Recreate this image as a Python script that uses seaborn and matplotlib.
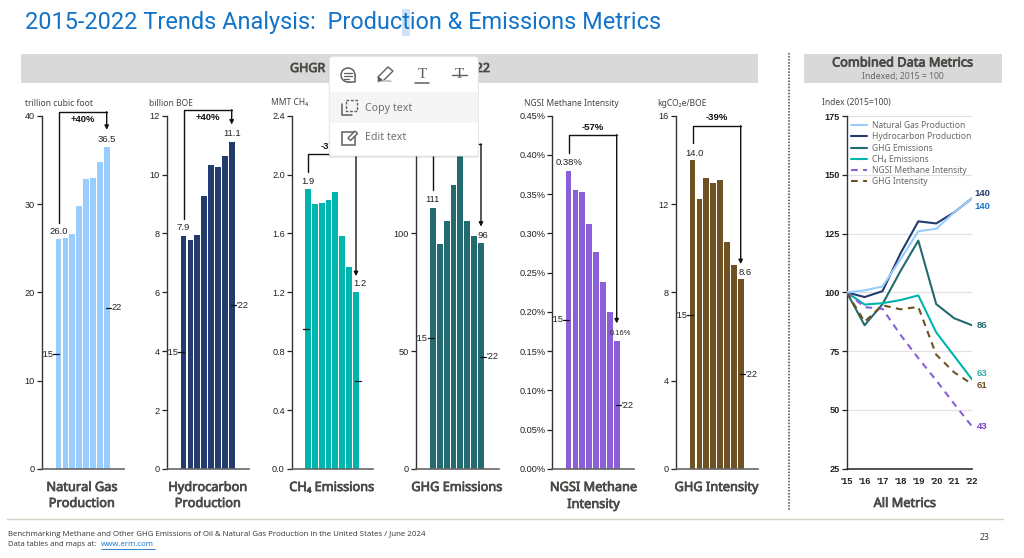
import numpy as np
import pandas as pd
import matplotlib
matplotlib.use("Agg")
import matplotlib.pyplot as plt
from matplotlib.patches import Rectangle, FancyBboxPatch, Circle, Polygon
import matplotlib.patheffects as pe
import seaborn as sns

# ---------- data ----------
years = ["'15", "'16", "'17", "'18", "'19", "'20", "'21", "'22"]
natural_gas = [26.0, 26.2, 26.6, 29.8, 32.8, 33.0, 34.8, 36.5]
hydrocarbon = [7.9, 7.77, 7.96, 9.26, 10.33, 10.26, 10.62, 11.1]
ch4_emissions = [1.9, 1.80, 1.81, 1.83, 1.88, 1.58, 1.37, 1.2]
ghg_emissions = [111, 95.5, 105.4, 120.7, 135, 105.4, 98.8, 96]
ngsi_intensity = [0.380, 0.356, 0.353, 0.312, 0.276, 0.238, 0.200, 0.163]
ghg_intensity = [14.0, 12.25, 13.2, 12.95, 13.1, 10.28, 9.25, 8.6]

idx_natural_gas = [100, 100.8, 102.5, 114, 126, 127, 134, 140]
idx_hydrocarbon = [100, 98, 100.5, 116.5, 130.2, 129.3, 134, 140]
idx_ghg = [100, 86, 95, 109, 122, 95, 89, 86]
idx_ch4 = [100, 94.8, 95.4, 96.7, 98.7, 83, 73, 63]
idx_ngsi = [100, 93.7, 93, 82, 72, 62.6, 52.6, 43]
idx_ghg_int = [100, 87.5, 94.5, 92.8, 93.8, 73.5, 66, 61]

metric_names = ["Natural Gas Production", "Hydrocarbon Production", "GHG Emissions",
                "CH₄ Emissions", "NGSI Methane Intensity", "GHG Intensity"]
metric_colors = ["#99CCFF", "#243B6E", "#236B70", "#00B5AD", "#8A5FD8", "#6F5224"]

W, H = 1024, 558
sns.set_theme(style="white")
plt.rcParams["font.family"] = ["Liberation Sans", "DejaVu Sans"]
UI = ["Noto Sans", "DejaVu Sans"]
TXT = "#4a4a46"
BOLDISH = [pe.withStroke(linewidth=0.55, foreground=TXT)]
fig = plt.figure(figsize=(W / 100, H / 100), dpi=100, facecolor="white")


def px_axes(x0, x1, ytop, ybot):
    ax = fig.add_axes([x0 / W, 1 - ybot / H, (x1 - x0) / W, (ybot - ytop) / H])
    ax.set_zorder(1)
    ax.patch.set_alpha(0)
    return ax


def style_axes(ax):
    sns.despine(ax=ax)
    ax.spines["left"].set_color("#333333")
    ax.spines["left"].set_linewidth(1.0)
    ax.spines["bottom"].set_color("#666666")
    ax.spines["bottom"].set_linewidth(1.2)
    ax.tick_params(axis="y", left=True, length=3.5, width=0.9, color="#222222", pad=1.5,
                   labelsize=6.6, labelcolor="#222222")
    ax.set_xlabel("")
    ax.set_ylabel("")


def bar_panel(x_axis, x_right, first_center, values, color, ymax, yticks, fmt,
              bracket, pct, pct_y, labels, marks):
    step = 6.87
    ax = px_axes(x_axis, x_right, 115.7, 469)
    sns.barplot(x=years, y=values, color=color, saturation=1, width=0.84, linewidth=0, ax=ax)
    ax.set_xlim((x_axis - first_center) / step, (x_right - first_center) / step)
    ax.set_ylim(0, ymax)
    ax.set_yticks(yticks)
    ax.set_yticklabels([fmt.format(t) for t in yticks])
    ax.set_xticks([])
    style_axes(ax)
    low, top, arrow = bracket
    ax.plot([0, 0, 7], [low, top, top], color="#111111", lw=1.0, clip_on=False, zorder=5)
    ax.annotate("", xy=(7, arrow), xytext=(7, top), annotation_clip=False,
                arrowprops=dict(arrowstyle="-|>", lw=1.0, color="#111111",
                                shrinkA=0, shrinkB=0, mutation_scale=6))
    ax.text(3.5, pct_y, pct, ha="center", va="center", fontsize=6.8, fontweight="bold",
            color="#111111", clip_on=False)
    for x, y, s, size in labels:
        ax.text(x, y, s, ha="center", va="center", fontsize=size, color="#222222", clip_on=False)
    for i, (y, s) in enumerate(marks):
        if i == 0:
            ax.plot([-0.75, 0.1], [y, y], color="#111111", lw=0.9, clip_on=False, zorder=5)
            ax.text(-0.8, y, s, ha="right", va="center", fontsize=6.6, color="#222222")
        else:
            ax.plot([6.9, 7.7], [y, y], color="#111111", lw=0.9, clip_on=False, zorder=5)
            ax.text(7.75, y, s, ha="left", va="center", fontsize=6.6, color="#222222")
    return ax


bar_panel(41.7, 124, 58.6, natural_gas, metric_colors[0], 40, [0, 10, 20, 30, 40], "{:.0f}",
          (27.9, 40.45, 38.4), "+40%", 39.6,
          [(0, 26.9, "26.0", 6.8), (7, 37.35, "36.5", 6.8)], [(13.0, "'15"), (18.25, "22")])
bar_panel(166.7, 249, 183.6, hydrocarbon, metric_colors[1], 12, [0, 2, 4, 6, 8, 10, 12], "{:.0f}",
          (8.5, 12.2, 11.7), "+40%", 11.95,
          [(0, 8.2, "7.9", 6.8), (7, 11.4, "11.1", 6.8)], [(3.96, "'15"), (5.57, "'22")])
bar_panel(291.7, 373, 307.9, ch4_emissions, metric_colors[3], 2.4, [0, .4, .8, 1.2, 1.6, 2.0, 2.4], "{:.1f}",
          (2.02, 2.14, 1.31), "-37%", 2.19,
          [(0, 1.953, "1.9", 6.8), (7.6, 1.257, "1.2", 6.8)], [(0.95, ""), (0.6, "")])
bar_panel(415.7, 498.7, 432.9, ghg_emissions, metric_colors[2], 150, [0, 50, 100, 150], "{:.0f}",
          (118.6, 138, 102.9), "-14%", 142,
          [(0, 114.4, "111", 6.8), (7.2, 99, "96", 6.8)], [(55.6, "'15"), (47.7, "'22")])
bar_panel(552.3, 634, 568.6, ngsi_intensity, metric_colors[4], 0.45,
          [0, .05, .10, .15, .20, .25, .30, .35, .40, .45], "{:.2f}%",
          (0.403, 0.4258, 0.1855), "-57%", 0.435,
          [(0.1, 0.39, "0.38%", 6.8), (7.6, 0.1728, "0.16%", 5.4)], [(0.1898, "'15"), (0.0815, "'22")])
bar_panel(675.7, 758, 692.6, ghg_intensity, metric_colors[5], 16, [0, 4, 8, 12, 16], "{:.0f}",
          (14.75, 15.55, 9.28), "-39%", 15.9,
          [(0.2, 14.3, "14.0", 6.8), (7.7, 8.92, "8.6", 6.8)], [(6.96, "'15"), (4.29, "'22")])

# ---------- combined line chart ----------
ax = px_axes(846.7, 972, 116, 468.7)
series = [idx_natural_gas, idx_hydrocarbon, idx_ghg, idx_ch4, idx_ngsi, idx_ghg_int]
df = pd.concat([pd.DataFrame({"year": np.arange(len(years)), "value": s, "metric": n})
                for s, n in zip(series, metric_names)])
dashes = {n: (3.2, 2.6) if "Intensity" in n else "" for n in metric_names}
sns.lineplot(data=df, x="year", y="value", hue="metric", style="metric",
             hue_order=metric_names, style_order=metric_names,
             palette=dict(zip(metric_names, metric_colors)), dashes=dashes,
             linewidth=1.5, ax=ax, zorder=3)
ax.lines[0].set_zorder(3.5)
ax.set_xlim(0, 7)
ax.set_ylim(25, 175)
ax.set_yticks([25, 50, 75, 100, 125, 150, 175])
ax.set_xticks(range(8))
ax.set_xticklabels(years)
ax.yaxis.grid(True, color="#e2e2e2", lw=0.9)
ax.set_axisbelow(True)
style_axes(ax)
ax.spines["bottom"].set_color("#333333")
ax.tick_params(axis="y", labelsize=6.6)
ax.tick_params(axis="x", bottom=False, pad=0, labelsize=6.6, labelcolor="#222222")
for t in ax.get_xticklabels() + ax.get_yticklabels():
    t.set_fontweight("bold")
leg = ax.legend(loc="upper left", bbox_to_anchor=(0.034, 0.986), frameon=False,
                labelspacing=0.27, handlelength=1.95, handletextpad=0.55,
                borderaxespad=0, borderpad=0, prop={"family": UI, "size": 6.1})
for t in leg.get_texts():
    t.set_color("#666666")
end_labels = [(141.9, "140", "#243B6E"), (136.6, "140", "#1F78C8"), (86, "86", "#236B70"),
              (65.7, "63", "#2FA8A2"), (60.2, "61", "#6F5224"), (43, "43", "#7A3FC8")]
for y, s, c in end_labels:
    ax.text(7.56, y, s, ha="center", va="center", fontsize=6.8, fontweight="bold", color=c, clip_on=False)

# ---------- page furniture (pixel coordinates) ----------
ov = fig.add_axes([0, 0, 1, 1])
ov.set_xlim(0, W)
ov.set_ylim(H, 0)
ov.axis("off")
ov.set_zorder(10)
ov.patch.set_alpha(0)

ov.add_patch(Rectangle((402, 9), 7.5, 27, color="#CFE2F7", lw=0))
ov.text(25, 22.5, "2015-2022 Trends Analysis:  Production & Emissions Metrics", family="Roboto",
        fontsize=16.9, color="#1273C9", va="center", ha="left")

ov.add_patch(Rectangle((21, 54), 737, 28.7, color="#D9D9D9", lw=0))
ov.add_patch(Rectangle((804.3, 54), 197.4, 28.7, color="#D9D9D9", lw=0))
ov.text(290, 68.5, "GHGR", family=UI, fontsize=9, color=TXT, va="center", ha="left", path_effects=BOLDISH)
ov.text(490, 68.5, "22", family=UI, fontsize=9, color=TXT, va="center", ha="right", path_effects=BOLDISH)
ov.text(903, 63, "Combined Data Metrics", family=UI, fontsize=9.2, color=TXT, va="center", ha="center",
        path_effects=BOLDISH)
ov.text(903, 77, "Indexed; 2015 = 100", family=UI, fontsize=6.2, color="#666666", va="center", ha="center")

ov.plot([789, 789], [53, 510], color="#444444", lw=1.1, ls=(0, (1, 1)))

units = [(25, "trillion cubic foot"), (149, "billion BOE"), (271, "MMT CH₄"),
         (524, "NGSI Methane Intensity"), (657, "kgCO₂e/BOE"), (822, "Index (2015=100)")]
for x, s in units:
    ov.text(x, 103, s, family=UI, fontsize=6.1, color="#444444", va="center", ha="left")

captions = [(82, 487.5, "Natural Gas"), (82, 503.5, "Production"), (208, 487.5, "Hydrocarbon"), (208, 503.5, "Production"),
            (332, 487.5, "CH₄ Emissions"), (457, 487.5, "GHG Emissions"), (593.7, 487.5, "NGSI Methane"),
            (593.7, 504.5, "Intensity"), (716.7, 487.5, "GHG Intensity"), (905, 503.5, "All Metrics")]
for x, y, s in captions:
    ov.text(x, y, s, family=UI, fontsize=9.2, color=TXT, va="center", ha="center", path_effects=BOLDISH)

ov.plot([7, 1003], [519, 519], color="#C9D6C2", lw=1.0)
ov.text(8, 534, "Benchmarking Methane and Other GHG Emissions of Oil & Natural Gas Production in the United States / June 2024",
        family="Open Sans", fontsize=5.66, color="#333333", va="center")
ov.text(8, 545, "Data tables and maps at:", family="Open Sans", fontsize=5.5, color="#333333", va="center")
ov.text(101, 545, "www.erm.com", family="Open Sans", fontsize=5.66, color="#1273C9", va="center")
ov.plot([101, 155], [549, 549], color="#1273C9", lw=0.6)
ov.text(985, 537, "23", family="Open Sans", fontsize=6.3, color="#333333", va="center", ha="center")

# ---------- floating context menu over the slide ----------
ov.add_patch(FancyBboxPatch((329.3, 56.7), 149, 99.3, boxstyle="round,pad=0.5,rounding_size=3",
                            fc="#000000", ec="none", alpha=0.10, zorder=20,
                            transform=ov.transData + matplotlib.transforms.ScaledTranslation(0, -1 / 72, fig.dpi_scale_trans)))
ov.add_patch(FancyBboxPatch((329.3, 56.7), 149, 99.3, boxstyle="round,pad=0,rounding_size=3",
                            fc="white", ec="#E6E6E6", lw=0.6, zorder=21))
ov.add_patch(Rectangle((329.5, 92), 148.6, 30.7, color="#F5F5F5", lw=0, zorder=22))
IC = "#5f5f5f"
z = 23
ov.add_patch(Circle((348, 75), 7, fc="white", ec=IC, lw=1.1, zorder=z))
ov.add_patch(Rectangle((348, 75), 7, 7, fc="white", ec="none", zorder=z))
ov.plot([348, 355, 355], [82, 82, 75], color=IC, lw=1.1, zorder=z + 1)
ov.plot([344, 352], [73, 73], color=IC, lw=0.9, zorder=z + 1)
ov.plot([344, 352], [76, 76], color=IC, lw=0.9, zorder=z + 1)
ov.plot([344, 349], [79, 79], color=IC, lw=0.9, zorder=z + 1)
ov.add_patch(Polygon([[378, 77], [388, 67], [393, 71], [383, 81]], closed=True, fc="white", ec=IC, lw=1.0, zorder=z))
ov.add_patch(Polygon([[378, 77], [383, 81], [378, 82]], closed=True, fc=IC, ec=IC, lw=0.5, zorder=z))
ov.add_patch(Polygon([[378, 82], [393, 82], [390, 80], [384, 80]], closed=True, fc="#C6C6C6", ec="none", zorder=z))
ov.text(422.3, 74, "T", family="Liberation Serif", fontsize=11, color=IC, ha="center", va="center", zorder=z)
ov.plot([415, 429], [83, 83], color=IC, lw=1.1, zorder=z)
ov.text(459.3, 74, "T", family="Liberation Serif", fontsize=11, color=IC, ha="center", va="center", zorder=z)
ov.plot([452, 467], [74.5, 74.5], color=IC, lw=1.0, zorder=z)

ov.add_patch(Rectangle((346, 100), 11, 11, fc="none", ec=IC, lw=1.0, ls=(0, (2, 1.2)), zorder=z))
ov.plot([342, 342, 352], [104, 115, 115], color=IC, lw=1.1, zorder=z)
ov.text(365, 108, "Copy text", family=UI, fontsize=7.7, color="#707070", va="center", zorder=z)
ov.add_patch(Rectangle((342, 132), 13, 13, fc="none", ec=IC, lw=1.1, zorder=z))
ov.add_patch(Polygon([[348, 138], [355, 131], [357.5, 133.5], [350.5, 140.5]], closed=True, fc="white", ec=IC, lw=1.0, zorder=z))
ov.text(365, 138, "Edit text", family=UI, fontsize=7.7, color="#707070", va="center", zorder=z)

fig.savefig("out.png", dpi=100)
